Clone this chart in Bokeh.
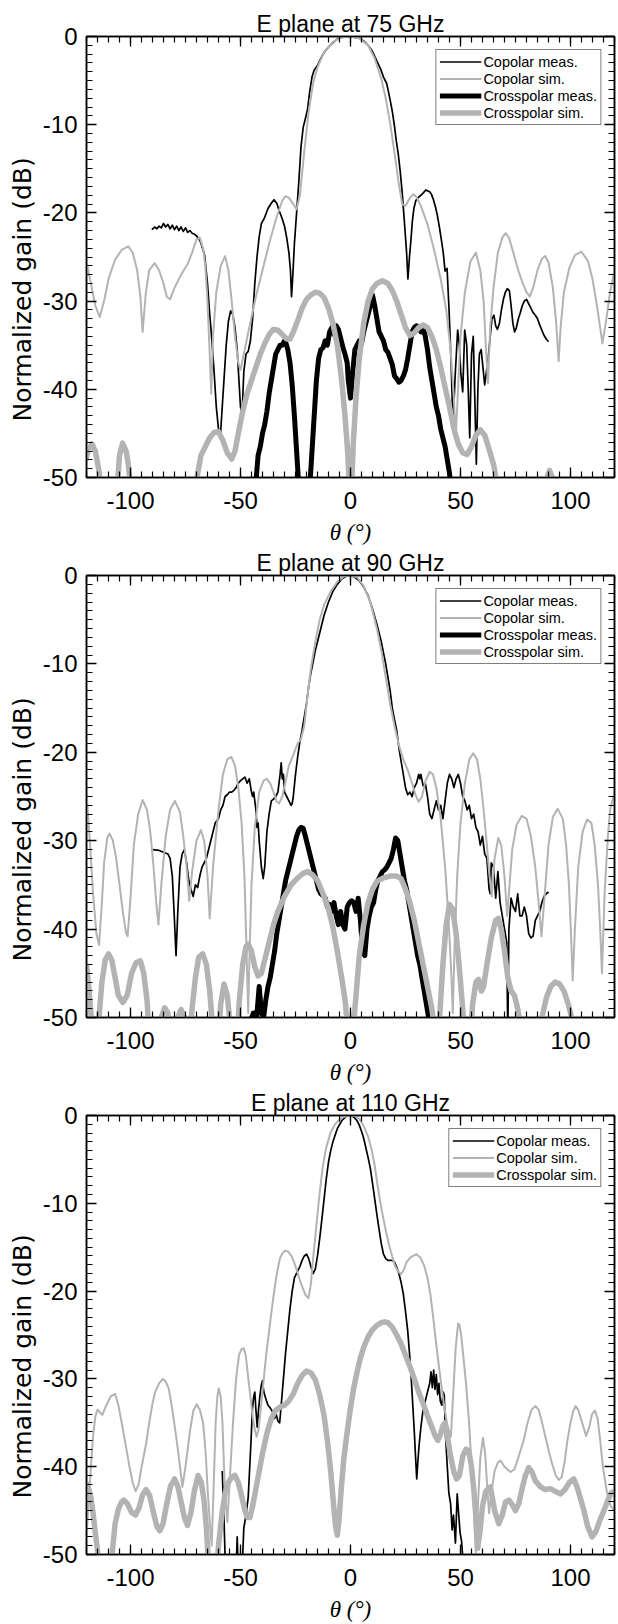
from bokeh.plotting import figure
from bokeh.models import (LinearAxis, SingleIntervalTicker, Range1d, Legend, LegendItem, Title,
                          CustomJSTickFormatter)
from bokeh.layouts import column
from bokeh.embed import file_html
from bokeh.resources import INLINE

# ---------------- data : E plane at 75 GHz ----------------
co_meas_75_x = [-90.3,-89,-88,-87,-86,-85,-84,-83,-82,-81, -80,-79,-78,-77,-76,-75,-74,-73,-72,-71,
                -70,-69,-68,-67,-66.3,-65,-64,-63.3,-62,-61, -60,-59.2,-58.3,-57.4,-56.5,-55.5,-54.5,-53.5,-52.5,-51.5,
                -50.7,-50,-49.3,-48.5,-47.5,-46.5,-45.5,-44.5,-43.5,-42.5, -41.5,-40.5,-39,-37.5,-36,-34.8,-33.5,-32.5,-31,-30,
                -29,-28,-27.3,-26.8,-26.2,-25.5,-24.5,-23.5,-22.5,-21.5, -20.5,-19.5,-18.5,-17.5,-16.5,-15,-13.5,-12,-10,-8,
                -6,-4,-2,0,2,4,6,8,10,12, 13.7,15,16.4,17.3,18.1,19,19.9,20.8,21.7,22.6,
                23.5,24.2,24.9,25.5,26.1,26.8,27.4,28.1,28.8,29.7, 30.6,32,33.2,34.2,35,36,36.8,37.7,38.6,39.5,
                40.4,41.2,42.1,43,43.9,44.8,45.7,46.6,47.5,48.7, 49.5,50.1,51,51.9,52.8,53.5,54.2,55,55.8,56.5,
                57.2,57.9,58.6,59.4,60.2,61,61.8,62.6,63.5,64.3, 65.2,66,66.8,67.7,68.6,69.5,70.4,71.3,72.2,73,
                73.8,74.6,75.4,76.3,77.2,78.1,79,80,81,82, 83,84,85,86,87,88,89,90]
co_meas_75_y = [-21.9,-21.6,-21.8,-21.5,-21.7,-21.2,-21.6,-21.3,-21.8,-21.4, -21.9,-21.5,-22.0,-21.6,-22.1,-21.7,-22.2,-22.0,-22.3,-22.4,
                -22.6,-22.9,-23.4,-24.2,-24.8,-28,-31.5,-33.5,-38,-42, -44.5,-45.5,-42,-38.5,-35,-32.3,-31.1,-31.5,-33,-35.5,
                -39,-42,-43,-38,-36,-35.7,-34.5,-32,-28,-25, -22.7,-21.2,-20.5,-19.5,-18.9,-18.5,-18.9,-19.7,-20.7,-21.5,
                -22.8,-24.5,-26.5,-29.5,-27,-23.5,-20,-16.5,-12.5,-10.3, -9.3,-8.2,-6.2,-4.6,-3.8,-3.3,-2.5,-1.8,-1.2,-0.7,
                -0.3,-0.1,0,0,-0.1,-0.2,-0.5,-1.0,-1.7,-2.8, -3.7,-4.6,-5.3,-6.3,-7.3,-8.5,-10,-11.8,-13.3,-15.3,
                -17.7,-20,-22.4,-24.5,-27.5,-25,-23.3,-21,-19.5,-18.6, -18.3,-18,-17.7,-17.4,-17.5,-17.6,-17.9,-18.5,-19.3,-20.3,
                -21.6,-22.9,-24.4,-26.6,-26.3,-31,-36.8,-44.2,-38.8,-33.3, -35,-38,-40.3,-33.3,-34.9,-40,-45.5,-36,-34,-41,
                -48.5,-40,-36,-35.5,-37.5,-39.5,-38,-36.5,-34,-32, -31.6,-32.8,-33.2,-32.5,-31,-29.8,-29,-28.6,-28.8,-30.5,
                -32.5,-33.5,-33,-32,-31.3,-30.5,-30,-29.8,-30.3,-30.8, -31.3,-31.6,-32,-32.7,-33.3,-33.9,-34.3,-34.6]

co_sim_75_x = [-120,-118,-116,-114,-112,-110,-107,-104,-101,-99, -97,-95.5,-94.5,-93,-91.5,-89,-87,-85,-83.5,-82,
               -80,-77,-74,-72,-70,-68.5,-67,-66,-65,-64, -63.3,-62.5,-61,-59,-57,-55.5,-54,-52.5,-51,-50,
               -48.5,-46,-43,-40,-37,-34,-31,-29.5,-28,-26, -24.5,-23,-21,-19,-17,-15,-12,-8,-4,0,
               4,8,11,14,16,18,20,22,23.5,25, 27,28.5,30,32,35,38,41,43.5,45.5,47,
               47.8,48.5,50,52,54.5,57,59,60.5,61.5,62.5, 63.5,65,67,69,70.5,72,74,76,78,80,
               81.5,83,85,87,88.5,90,92,93.5,94.6,95.5, 97,99.5,102,105,108,110,112,113.5,114.5,116,
               118,120]
co_sim_75_y = [-25.5,-28,-30.5,-31.8,-30,-27.5,-25.3,-24.2,-23.8,-24.5, -26.5,-29.5,-33.5,-29,-26.5,-25.7,-26.5,-28,-29.5,-29.8,
               -28.5,-27,-25.8,-24.5,-23,-22.8,-24,-26,-30,-36, -40.5,-34,-29,-26,-24.9,-26.5,-30,-34,-37,-37.8,
               -36,-33,-29.5,-26.5,-23.5,-20.8,-18.6,-18.1,-18.3,-19, -19.6,-18,-13,-8.5,-5.3,-3.5,-1.8,-0.6,-0.1,0,
               -0.2,-1,-2.5,-4.8,-7,-9.8,-13.2,-16.8,-19,-19.2, -18.3,-17.9,-18.2,-19.2,-21.3,-24.2,-27.5,-31,-35.5,-41,
               -45.5,-42,-34,-29,-25.5,-24.5,-26.5,-30,-35,-39.3, -33,-28.5,-24.5,-22.8,-22.3,-22.8,-24.5,-26.3,-27.8,-29,
               -29.5,-28.5,-26.5,-25.2,-24.9,-25.6,-28.5,-32.5,-36.8,-33, -29,-26.2,-24.8,-24.4,-25.5,-27.5,-30.5,-33,-34.8,-32.5,
               -29,-26.5]

cx_meas_75_x = [-44,-43,-42,-41,-40,-39,-38,-37,-36,-35, -34,-33,-32,-31,-30,-29.3,-28.5,-27.5,-26.5,-25.5,
                -24.5,-23.5,-22.5,-19.5,-18.5,-17.5,-16.5,-15.5,-14.5,-13.5, -12.5,-11.5,-10.5,-9.5,-8.5,-7.5,-6.5,-5.5,-4.5,-3.5,
                -2.5,-1.5,-1,0,1,2,3,4,5,6, 7,8,9,10,11,12,13,14,15,16,
                17,18,19,20,21,22,23,24,25,26, 27,28,29,30,31,32,33,34,35,36,
                37,38,39,40,41,42,43,44,45,45.5, 46.5]
cx_meas_75_y = [-53,-50.5,-47.5,-46.5,-45,-44,-42.5,-40.5,-39,-37.5, -36,-35.5,-35,-35,-34.5,-34.8,-35.5,-37,-39.5,-43,
                -47,-51,-54,-54,-51,-47,-43,-39,-36.5,-35.5, -35.3,-34.5,-35,-33.5,-33,-33.8,-32.8,-33.2,-34.2,-35.2,
                -36,-37,-39,-41,-38,-35.5,-35,-34.5,-34.8,-33.5, -32.5,-31.5,-30.5,-29.3,-30.5,-32,-33.5,-34,-34.5,-35.5,
                -35.8,-36.5,-37.2,-38.5,-38.8,-39.2,-39,-38.5,-37.8,-36.5, -35,-33.5,-33,-32.8,-33,-33.5,-33,-34,-35.5,-37.5,
                -39,-40.5,-42,-43,-44.5,-45.5,-46.5,-48,-49.5,-51, -54]

cx_sim_75_x = [-121,-119,-117.5,-116,-114.5,-113.5,-112,-107.5,-106,-105, -103.6,-102,-101,-100,-98,-72,-70.5,-68,-66,-64,
               -62,-60,-58,-56,-54,-52.5,-51,-49,-47,-45, -43,-41,-39,-37,-35,-33,-31,-29,-27.5,-26,
               -24,-22,-20,-18,-16,-14,-12,-10,-8,-6, -4,-2.5,-1.3,-0.5,0.5,1.3,2.5,4,6,8,
               10,12,14.5,17,19,21,23,25,27,29, 31,33,35,37,39,41,43,45,47,49,
               51,53,55,57,59,61,63,65,66.5,68, 87,88.5,90.5,92.5,94]
cx_sim_75_y = [-48.5,-46.8,-46.2,-47,-49,-51,-54,-54,-51,-47.5, -46.1,-47,-48.5,-51,-54,-54,-51,-47.5,-46.5,-45.5,
               -44.9,-44.8,-45.8,-47.2,-47.9,-47,-45,-42.5,-40.5,-39, -37.5,-36,-34.8,-33.8,-33.2,-33.3,-33.8,-34.3,-34.3,-33.5,
               -32.2,-30.8,-29.8,-29.3,-29,-29.1,-29.6,-30.8,-32.5,-35, -39,-43,-47,-51,-51,-46,-41,-36.5,-32.5,-30,
               -28.6,-28,-27.7,-28,-28.8,-30,-31.5,-33,-33.9,-33.6, -33,-32.7,-33,-34,-35.5,-37.5,-39.8,-42,-44.5,-46.2,
               -47.2,-47.4,-46.5,-45.2,-44.6,-45.2,-46.8,-48.5,-50.5,-54, -54,-50.5,-49.2,-50.5,-54]

# ---------------- data : E plane at 90 GHz ----------------
co_meas_90_x = [-89.8,-87,-85,-83,-82,-81,-80.2,-79.3,-78.5,-77.5, -76.5,-75.5,-74.5,-73.5,-72.5,-71.5,-70.5,-69.5,-68.5,-67.5,
                -66.5,-65.5,-64.5,-63.5,-62.5,-61.5,-60,-59,-58,-57, -56,-55,-54,-53,-52,-51,-50,-49,-48,-47,
                -46,-45,-44.5,-44,-43,-42.5,-42,-41.5,-40.5,-39.7, -39,-38,-37,-36,-35,-34,-33,-32,-31.5,-31,
                -30.5,-30,-29,-28,-27,-26.5,-26,-25,-24,-23, -22,-21,-20,-19,-18,-17,-16,-14,-12,-10,
                -8,-6,-4,-2,0,2,4,6,8,10, 12,14,16,17,18,19,20,21,22,23,
                24,25,26,27,28,29,30,31,31.5,32, 33,34,35,36,37,38,39,40,41,42,
                43,44,45,46,47,48,49,50,51,52, 53,54,55,56,57,58,59,60,61,62,
                63,63.5,64,65,66,67,68,69,70,71, 71.5,72,73,74,75,76,77,78,79,80,
                81,82,83,84,85,86,87,88,89,90]
co_meas_90_y = [-31,-31.1,-31.3,-31.5,-32,-34,-38,-43,-38,-33, -31.5,-31,-32.5,-34.5,-35.5,-36.3,-35,-35.3,-34,-33,
                -32.5,-32,-31,-30,-29,-28,-27.5,-26.5,-26,-25, -24.8,-24.5,-24.5,-24.3,-24,-23.5,-23.2,-23,-22.8,-23.5,
                -23,-24.5,-25,-24.5,-26.5,-28.5,-28,-30,-33,-34.3, -33,-29,-27,-25.5,-25.3,-25,-24.5,-22.5,-21.2,-23,
                -22.5,-24.5,-25,-25.5,-26,-25.8,-25,-22.5,-20.5,-18.8, -17.5,-16,-14.5,-12.5,-11,-9.8,-8.5,-6.5,-4.5,-3,
                -1.8,-1,-0.4,-0.1,0,-0.2,-0.6,-1.3,-2.3,-3.8, -5.5,-7.5,-10,-11.5,-13,-15,-16.3,-17.5,-19.5,-21,
                -22.5,-24,-24.8,-24.5,-25,-24,-23.5,-22.5,-23,-22.5, -23.8,-23.5,-25,-27,-27.5,-26.5,-25.5,-26.5,-26,-27.5,
                -25.5,-23.5,-22.5,-23,-24,-23,-22.5,-23.5,-25,-25.5, -26.5,-26,-27.5,-27,-28.5,-29,-30.5,-29.5,-31.5,-32,
                -35.5,-36,-32.5,-33,-36.5,-33.5,-37,-38.5,-40,-41.5, -52,-40,-36.5,-37.5,-38,-36,-38.5,-38.5,-37.5,-38.5,
                -40.5,-41,-40.8,-39,-38.5,-38,-37,-36.3,-36,-35.8]

co_sim_90_x = [-120,-118.5,-117,-115.5,-114.3,-113,-112,-110.5,-109.5,-108, -106.5,-105,-103.5,-102,-101.3,-100,-98.5,-96.5,-94.5,-92.5,
               -91,-89.5,-88.3,-87.3,-86,-84,-82,-79.8,-77.5,-76, -74.5,-73.3,-72,-70,-68,-66.5,-65,-64,-62.5,-60,
               -58,-56,-54.2,-52.5,-51,-49.5,-48.2,-47.3,-46.5,-45.8, -45,-43.5,-41.5,-39.5,-38,-36.5,-35,-33.5,-32.5,-31,
               -29.5,-28,-26,-24,-22.5,-21,-19.5,-18,-16,-14, -12,-9,-6,-3,0,3,6,9,12,14,
               16,18,20,22,24,26,28,29.5,31,32.5, 34,36,37.5,39,41,43,44.5,45.8,46.5,47.3,
               48.5,50,52,54,55.8,57.5,59,60.5,62,63, 64.2,65.5,67.2,68.5,70,71.2,72,73.5,75.5,77.8,
               80,82,84,85.5,86.8,88,90,92,94.2,96.5, 98,99.3,100.3,101,102,103.5,105.5,107.5,109.5,111,
               112.5,113.5,114.3,115.5,117,118,120]
co_sim_90_y = [-24.5,-30,-36,-40.5,-41.8,-37,-32.5,-29.6,-29.2,-30, -32,-35,-38,-40.5,-40.8,-36.5,-30.5,-27,-25.4,-26.5,
               -29,-33,-37,-39.5,-35,-29.5,-26.5,-25.5,-26.8,-29.5, -33,-36.8,-33.5,-30,-28.8,-30,-34,-38.8,-33,-26.5,
               -22.5,-20.8,-20.5,-21.5,-24,-28,-34,-42,-49.5,-42, -35,-28.5,-24.5,-23.2,-23,-23.5,-24.5,-25.6,-25.8,-25,
               -23.3,-21.5,-20.3,-19,-18.5,-17,-13.5,-10.5,-7.5,-5, -3.3,-1.8,-0.7,-0.1,0,-0.2,-1.2,-3,-6,-8.5,
               -11.5,-14.5,-17,-19.2,-20.8,-22,-23.5,-24.8,-25.6,-25, -23.3,-22.2,-22.5,-24,-27.5,-33,-38.5,-45,-49.5,-42,
               -34,-28,-23.5,-20.8,-20.1,-20.8,-23,-26.5,-30.5,-33.5, -36.3,-32,-29.7,-30.5,-34,-38.5,-36,-31,-28.2,-27.2,
               -27.5,-29.5,-33,-37,-40.8,-37,-30.5,-27.3,-26.4,-27.5, -30.5,-35,-41,-45.8,-40,-33,-29,-27.6,-28,-30.5,
               -35,-40,-45,-36,-29.5,-26.5,-24.5]

cx_meas_90_x = [-46,-45,-44,-43,-42,-41.5,-40.5,-39.5,-38.5,-37.5, -36.5,-35.5,-34.5,-33.5,-32.5,-31.5,-30.5,-29.5,-28.5,-27.5,
                -26.5,-25.5,-24.5,-23.5,-22.5,-21.5,-20.5,-19.5,-18.5,-17.5, -16.5,-15.5,-14.5,-13.5,-12.5,-11.5,-10.5,-9.5,-8.5,-7.5,
                -6.5,-5.5,-4.5,-3.5,-2.5,-1.5,-0.5,0.5,1.5,2.5, 3.5,4.5,5.5,6.5,7.5,8.5,9.5,10.5,11.5,12.5,
                13.5,14.5,15.5,16.5,17.5,18.5,19.5,20.5,21.5,22.5, 23.5,24.5,25.5,26.5,27.5,28.5,29.5,30.5,31.5,32.5,
                33.5,34.5,35.5,36]
cx_meas_90_y = [-52,-50,-49.5,-51,-48,-46.5,-49.5,-50,-48,-46.5, -45.5,-44,-42.5,-40.5,-39,-37.5,-36,-34.5,-33.5,-32.5,
                -31.5,-30.5,-29.5,-28.8,-28.5,-28.6,-29.5,-30.5,-31.5,-32.5, -33.5,-34.5,-35.5,-36,-36.2,-36.5,-37.5,-37.2,-38,-37,
                -38.5,-39.5,-38,-39.5,-40,-37.5,-37,-36.8,-37,-38, -36.5,-39,-42.5,-43,-40,-38.5,-37.5,-37,-35.5,-34.5,
                -34,-33.5,-33.3,-33,-32.5,-32,-31,-29.7,-30,-31.5, -33,-34.5,-35.5,-37,-38.5,-40,-41.5,-43,-44,-45.5,
                -47,-48.5,-50,-52]

cx_sim_90_x = [-120,-119,-118,-117,-115,-114,-113,-111.5,-110,-108.5, -107,-105.5,-103.5,-101.5,-99.5,-97.5,-95.5,-94,-92.5,-91.5,
               -86.5,-86,-84.5,-83,-82,-79,-78.5,-77,-75.5,-74.5, -73,-72,-70.5,-69,-67.2,-65.5,-64,-63,-62.5,-60,
               -59,-57.5,-56,-55,-54.5,-51.5,-50.5,-49,-47.5,-46.5, -45,-43.5,-42,-40.5,-39,-37,-35,-33,-30,-27,
               -24,-21.5,-19.5,-17.5,-15,-12.5,-10,-8,-6,-4, -2.5,-1,1,2.5,4,6,8,10,12,15,
               18,21,23,25,27,29,31,33,35,37, 38.5,40,41,42,43.5,45,46.5,48,49.5,51,
               52,54.5,55.5,57,58.2,59.5,60.5,62,64,66, 67.2,68.5,70,71.5,73,74.5,76,77,78,86,
               87,89,91,93,95,97,99,101,102]
cx_sim_90_y = [-44,-46.5,-49.5,-52,-52,-49,-46,-43.5,-42.8,-43.5, -45.5,-47.5,-48.3,-47.5,-45,-43.8,-43.6,-45,-48,-52,
               -52,-50,-48.9,-49.5,-52,-52,-50,-49.1,-50,-52, -52,-49,-45.5,-43.2,-42.8,-44,-47,-50,-52,-52,
               -48.5,-46.2,-47.5,-50,-52,-52,-48,-44,-42,-41.7, -42.5,-44.3,-45.3,-45,-43.5,-41.5,-39.5,-38,-36.3,-35,
               -34.2,-33.7,-33.5,-33.8,-34.5,-36,-37.7,-39.8,-42.5,-45.5, -48,-52,-52,-47.5,-43,-39.5,-37,-35.5,-34.6,-34.2,
               -34,-34,-34.3,-35.5,-37,-39,-41.5,-44,-46.5,-49, -52,-52,-48,-44,-39.5,-37.2,-37.8,-40.5,-44.5,-49,
               -52,-52,-48.5,-46,-45.7,-47,-46.5,-44,-41,-39, -38.8,-40,-42.5,-45.5,-47,-47.5,-49,-50.5,-52,-52,
               -50,-47.8,-46.5,-46,-46.2,-47,-48.5,-50.5,-52]

# ---------------- data : E plane at 110 GHz ----------------
co_meas_110_x = [-58.3,-57.5,-56.8,-52,-51.5,-51,-49.3,-48.5,-47.5,-46.5, -45.8,-45.2,-44.6,-44,-43.5,-43,-42.4,-41.8,-41.2,-40.6,
                 -40,-39.4,-38.8,-38.2,-37.5,-36.5,-35.5,-34.5,-33.8,-33, -32.2,-31.5,-30.5,-29.5,-28.5,-27.5,-26.5,-25.5,-24,-23,
                 -22,-21,-20,-19,-18,-17,-16,-15,-14,-13, -12,-11,-10,-9,-8,-6,-4,-2,0,1,
                 2,3,4,5,6,7,8,9,10,11, 12,13,14,15,16,17,18,19,20,21,
                 22,23,24,25,26,26.8,27.5,28.2,29,29.6, 30.1,30.6,31.2,32,33,34,35,36,36.6,37.2,
                 37.8,38.4,39,39.6,40.2,40.8,41.5,42.1,42.6,43.2, 44,44.7,45.5,46.2,46.8,47.7,48.5,49.2,49.8,50.5,
                 51.5]
co_meas_110_y = [-40.5,-46,-52,-52,-48,-52,-52,-47,-45.5,-43.5, -40,-37,-33.5,-32,-31.5,-33.5,-35.5,-33.5,-32,-30.8,
                 -30.2,-31.5,-32,-32.5,-33,-33.3,-33.7,-34.5,-34,-34.8, -35,-33,-30,-27,-24.5,-22,-20,-18.5,-17.7,-17.2,
                 -16.5,-16,-15.8,-16.3,-17.2,-18,-17.5,-16,-14,-11.8, -9.5,-7.2,-5.3,-4,-3,-1.5,-0.6,-0.1,0,-0.1,
                 -0.3,-0.6,-1.1,-1.8,-2.6,-3.7,-4.8,-6,-7.7,-9.5, -11.3,-13,-14.6,-15.8,-16.3,-16.5,-16.5,-16.5,-16.7,-17.3,
                 -18,-19,-20.3,-22.3,-24.5,-27,-29.5,-32.5,-36,-39, -41.4,-39.5,-37.5,-35.5,-33.5,-32.5,-31.5,-30.5,-29.2,-31,
                 -29,-31.2,-29.5,-31.8,-30.5,-32.5,-33,-31.5,-31.8,-36.5, -40,-43,-44.2,-47.2,-45.5,-48.7,-43.1,-45.5,-47.5,-48.5,
                 -52]

co_sim_110_x = [-120,-119,-118,-117,-116,-115,-114,-112.8,-111,-109, -107,-105.5,-104,-102,-100.4,-99,-97.7,-96.3,-95,-93,
                -91.5,-90,-88.8,-87,-85.3,-84,-82.6,-81,-79,-77.5, -76.4,-75,-72.9,-71.4,-69.9,-68.5,-67,-65.8,-64.9,-63.9,
                -63.1,-62.3,-61.3,-60.5,-59.9,-59,-58.2,-57.5,-56.9,-56, -55,-53.4,-52,-50.7,-49.5,-48.6,-47.6,-46.8,-45.6,-44.5,
                -43.5,-42.7,-41.8,-41,-39.5,-38.3,-36.5,-34.8,-33.5,-32.1, -31,-29.8,-28.3,-26.8,-25.5,-24.1,-22.8,-21.5,-20.3,-19.1,
                -18,-17,-16,-15.2,-14,-12.6,-11,-9,-7,-5.5, -3.5,-2,0,2.5,4,6,8,9.6,11,12.2,
                13.5,14.9,16.2,17.6,19,20.2,21.5,22.9,24.2,25.5, 27.5,30,31.8,33.5,35,36.2,37.5,38.8,40.2,41.5,
                42.8,44.1,45.6,46.2,46.8,47.8,48.9,49.5,50.3,51.2, 52.5,53.9,54.8,55.7,56.4,57,58,59,60.2,61.2,
                62.2,63,64,65.5,67,68.2,70,72.7,74.5,76.5, 78.7,80.5,82.3,84.1,85.5,86.7,88.5,90.2,91.8,93.3,
                94.7,96,97.3,98.6,100,101.2,102.3,103.5,105.3,107.1, 108.5,109.8,111.1,112.3,113.5,114.7,116.7,118.3,120]
co_sim_110_y = [-48,-44,-40,-36.5,-34.3,-33.5,-33.8,-34.1,-33,-32, -31.7,-33,-35,-37.8,-40.1,-41.8,-42.8,-42,-40.1,-37.5,
                -35,-32.8,-31.5,-30.5,-30,-30.3,-31.1,-33.5,-37,-40, -42.3,-40,-35.8,-33.6,-32.9,-33.5,-35,-38.5,-42.8,-46.5,
                -49,-43,-35,-32,-31.1,-32,-35,-40,-43.5,-46.3, -42,-35,-30,-27.3,-26.6,-26.5,-27.3,-29.2,-31.8,-34.2,
                -35.8,-36.6,-35.8,-33.9,-30.2,-27.2,-23.5,-20.2,-18,-16.3, -15.7,-15.4,-15.5,-16,-16.8,-17.9,-18.9,-19.8,-20.5,-20.8,
                -19.2,-16.3,-13.8,-11.7,-8.8,-5.8,-3.6,-1.9,-1,-0.6, -0.2,-0.1,0,-0.1,-0.4,-1.2,-2.4,-3.9,-5.7,-7.8,
                -9.8,-11.7,-13.3,-14.8,-16.1,-17.1,-17.7,-18.1,-17.6,-16.7, -16.1,-15.8,-16.2,-17.1,-18.5,-20.2,-22.8,-25.7,-28.6,-31.1,
                -33.5,-35.4,-36.6,-34,-31.1,-26.5,-23.7,-23.8,-25,-27.2, -30.5,-35,-39,-43,-47,-49.8,-44,-39,-36.7,-38.5,
                -42.5,-45.3,-43,-40.5,-39.5,-39.3,-40,-40.6,-40.3,-38.8, -37,-35,-33.5,-33.1,-33.5,-34.6,-36.5,-38.3,-39.8,-41,
                -41.5,-41.2,-39.5,-37,-35,-33.7,-33.1,-33.5,-35,-36.5, -35.5,-34,-33.6,-34.5,-37,-40,-43.1,-44.5,-45]

cx_sim_110_x = [-120,-119,-118,-117,-116,-115,-114,-109,-108,-107, -105.5,-104,-103,-101.5,-99.5,-97.7,-96,-94.5,-92.9,-91.3,
                -89.5,-88,-86.7,-85.2,-83.5,-81.8,-80,-78.5,-77,-75.5, -74.1,-72.5,-71,-69.3,-67.8,-66.5,-65.5,-64.8,-64.2,-61,
                -60,-58.5,-57,-55.5,-54,-52.5,-51,-49.5,-48,-46.8, -45.7,-44.5,-43,-41.5,-40,-38,-36,-34,-32,-30,
                -28,-26,-24,-22,-20,-18,-16,-14,-12,-10.5, -9,-7.8,-6.8,-6,-5.2,-4.2,-3,-1.5,0,1.5,
                3,4.5,6,8,10,12,14,15.5,17,19, 21,23,25,27,29,31,33,35,37,38.5,
                39.7,40.9,42,43,44,45.5,47,48.2,49.5,51, 52.5,53.8,55,56,57,57.8,58.8,60,61.5,63.6,
                65.5,67.4,69,70.5,72,73.5,75,76.5,78,79.5, 81,82.5,84,86.4,88.5,90.9,93,95.5,97.5,99.5,
                101.5,103,104.5,106.1,107.8,109.8,111.5,113.5,115.2,117, 118.5,120]
cx_sim_110_y = [-41.8,-42.5,-43.5,-45.3,-47.5,-49.5,-52,-52,-49,-46.5, -44.8,-44,-43.8,-44.2,-45.2,-45.5,-44.6,-43.2,-42.6,-43.3,
                -45.3,-46.8,-47.3,-46.5,-44.2,-42.2,-41.4,-42.2,-44,-45.8, -46.7,-45.2,-42.8,-41,-41.8,-44,-47,-50,-52,-52,
                -49,-45.5,-43,-41.8,-41.2,-41,-41.8,-43.3,-45,-45.8, -45.8,-44.5,-42.5,-40.5,-38.5,-36.2,-34.5,-33.6,-33.2,-33,
                -32.5,-31.7,-30.5,-29.6,-29.1,-29.3,-30.1,-31.8,-34.2,-37, -40.5,-44,-46.8,-47.8,-46,-42.5,-39,-36,-33.3,-31,
                -29.2,-27.6,-26.4,-25.2,-24.4,-23.9,-23.6,-23.5,-23.6,-24.1, -25,-26,-27.3,-28.6,-30,-31.5,-32.8,-34.2,-35.5,-36.5,
                -37,-36.3,-35.3,-35,-36.5,-38.8,-40.6,-41.4,-41,-38.8, -38,-38.2,-40,-42.5,-45.5,-49.3,-47.5,-44.5,-42.8,-42.3,
                -45,-46.5,-45.5,-44,-43.8,-44.3,-45,-44.2,-42.5,-41, -40.1,-40.6,-41.6,-42.3,-42.6,-42.5,-42.8,-43.1,-42.6,-41.8,
                -41.4,-42.3,-43.6,-45,-46.8,-48,-47.4,-46,-45,-43.8, -43,-42.8]

panel_titles = ["E plane at 75 GHz", "E plane at 90 GHz", "E plane at 110 GHz"]
legend_labels = ["Copolar meas.", "Copolar sim.", "Crosspolar meas.", "Crosspolar sim."]
y_label_text = "Normalized gain (dB)"
x_label_text = "θ (°)"

# ---------------- styling ----------------
SANS = "Liberation Sans"
SERIF = "Liberation Serif"
BLACK = "#000000"
GRAY = "#b3b3b3"


def style_axis(ax, interval, show_labels, standoff=10):
    ax.ticker = SingleIntervalTicker(interval=interval, num_minor_ticks=10)
    ax.axis_line_color = BLACK
    ax.axis_line_width = 1.5
    ax.major_tick_in = 10
    ax.major_tick_out = 0
    ax.minor_tick_in = 6
    ax.minor_tick_out = 0
    ax.major_tick_line_color = BLACK
    ax.minor_tick_line_color = BLACK
    ax.major_tick_line_width = 1.3
    ax.minor_tick_line_width = 1.2
    if show_labels:
        ax.formatter = CustomJSTickFormatter(code="return tick.toFixed(0);")
        ax.major_label_text_font = SANS
        ax.major_label_text_font_size = "24px"
        ax.major_label_text_color = BLACK
        ax.major_label_standoff = standoff
    else:
        ax.major_label_text_font_size = "0px"
        ax.major_label_text_alpha = 0
        ax.major_label_standoff = 0


def make_panel(title, height, top, bottom, series):
    p = figure(width=618, height=height, x_range=Range1d(-120, 120), y_range=Range1d(-50, 0),
               output_backend="svg", toolbar_location=None, title=title,
               min_border_left=86, min_border_right=4, min_border_top=top, min_border_bottom=bottom)
    p.title.align = "center"
    p.title.text_font = SANS
    p.title.text_font_size = "23px"
    p.title.text_font_style = "normal"
    p.title.text_color = BLACK
    p.title.standoff = 0
    p.xgrid.visible = False
    p.ygrid.visible = False
    p.outline_line_color = BLACK
    p.outline_line_width = 1.5
    p.background_fill_color = "white"
    p.border_fill_color = "white"

    style_axis(p.xaxis[0], 50, True, 14)
    style_axis(p.yaxis[0], 10, True, 9)
    p.xaxis[0].axis_label = x_label_text
    p.xaxis[0].axis_label_text_font = SERIF
    p.xaxis[0].axis_label_text_font_style = "italic"
    p.xaxis[0].axis_label_text_font_size = "23px"
    p.xaxis[0].axis_label_text_color = BLACK
    p.xaxis[0].axis_label_standoff = 8

    top_ax = LinearAxis()
    right_ax = LinearAxis()
    style_axis(top_ax, 50, False)
    style_axis(right_ax, 10, False)
    p.add_layout(top_ax, "above")
    p.add_layout(right_ax, "right")

    ylab = Title(text=y_label_text, align="left", offset=56, standoff=5,
                 text_font="DejaVu Sans", text_font_size="25px", text_font_style="normal",
                 text_color=BLACK)
    p.add_layout(ylab, "left")

    items = []
    for (label, xs, ys, color, width) in series:
        assert len(xs) == len(ys), label
        r = p.line(xs, ys, line_color=color, line_width=width, line_join="round")
        items.append((label, r))
    order = {lab: i for i, lab in enumerate(legend_labels)}
    items.sort(key=lambda t: order[t[0]])
    legend = Legend(items=[LegendItem(label=l, renderers=[r]) for l, r in items],
                    location="top_right", margin=13, padding=3, spacing=0,
                    glyph_width=42, glyph_height=17, label_height=17, label_standoff=2,
                    label_text_font=SANS, label_text_font_size="14.5px", label_text_color=BLACK,
                    border_line_color=BLACK, border_line_width=1.3,
                    background_fill_color="white", background_fill_alpha=1.0)
    p.add_layout(legend)
    return p


p1 = make_panel(panel_titles[0], 547, 36, 68, [
    ("Copolar meas.", co_meas_75_x, co_meas_75_y, BLACK, 1.7),
    ("Copolar sim.", co_sim_75_x, co_sim_75_y, GRAY, 2.0),
    ("Crosspolar meas.", cx_meas_75_x, cx_meas_75_y, BLACK, 5.0),
    ("Crosspolar sim.", cx_sim_75_x, cx_sim_75_y, GRAY, 5.5),
])
p2 = make_panel(panel_titles[1], 540, 28, 69, [
    ("Copolar meas.", co_meas_90_x, co_meas_90_y, BLACK, 1.7),
    ("Copolar sim.", co_sim_90_x, co_sim_90_y, GRAY, 2.0),
    ("Crosspolar meas.", cx_meas_90_x, cx_meas_90_y, BLACK, 5.0),
    ("Crosspolar sim.", cx_sim_90_x, cx_sim_90_y, GRAY, 5.5),
])
p3 = make_panel(panel_titles[2], 537, 28, 66, [
    ("Copolar meas.", co_meas_110_x, co_meas_110_y, BLACK, 1.7),
    ("Copolar sim.", co_sim_110_x, co_sim_110_y, GRAY, 2.0),
    ("Crosspolar sim.", cx_sim_110_x, cx_sim_110_y, GRAY, 5.5),
])

layout = column(p1, p2, p3, spacing=0)
open("out.html", "w").write(file_html(layout, INLINE))
